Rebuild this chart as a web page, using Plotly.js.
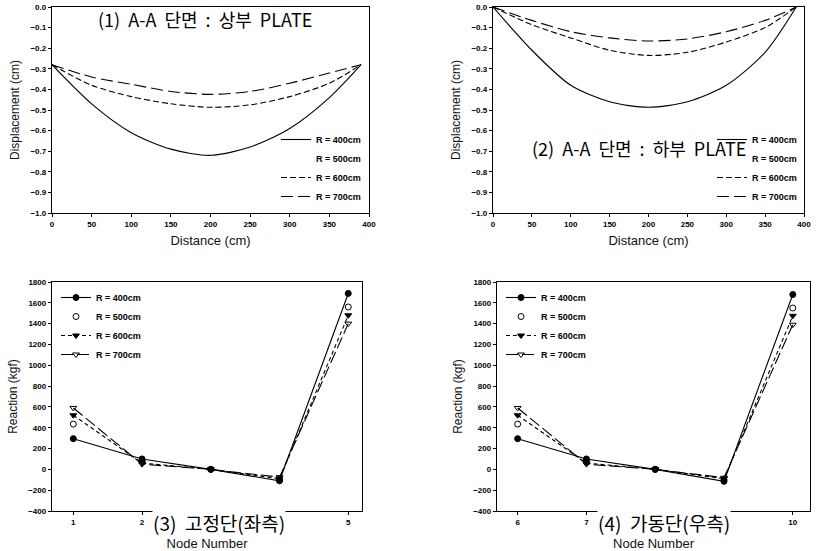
<!DOCTYPE html>
<html>
<head>
<meta charset="utf-8">
<script src="https://cdn.plot.ly/plotly-3.0.1.min.js"></script>
<style>html,body{margin:0;padding:0;background:#fff;}#chart{width:817px;height:551px;}</style>
</head>
<body>
<div id="chart"></div>
<script>
// ---- Data ----
const seriesNames = ['R = 400cm', 'R = 500cm', 'R = 600cm', 'R = 700cm'];

// Panel (1) upper plate displacement
const dist1 = [0, 50, 100, 150, 200, 250, 300, 350, 390];
const upper400 = [-0.28, -0.47, -0.61, -0.69, -0.72, -0.68, -0.59, -0.44, -0.28];
const upper600 = [-0.28, -0.38, -0.435, -0.47, -0.487, -0.475, -0.435, -0.37, -0.28];
const upper700 = [-0.28, -0.34, -0.375, -0.41, -0.424, -0.41, -0.37, -0.32, -0.28];

// Panel (2) lower plate displacement
const dist2 = [0, 50, 100, 150, 200, 250, 300, 350, 390];
const lower400 = [0.0, -0.21, -0.38, -0.46, -0.487, -0.46, -0.38, -0.22, 0.0];
const lower600 = [0.0, -0.086, -0.15, -0.21, -0.235, -0.22, -0.17, -0.1, 0.0];
const lower700 = [0.0, -0.065, -0.12, -0.15, -0.165, -0.155, -0.12, -0.065, 0.0];

// Panel (3) fixed end reactions
const nodes3 = [1, 2, 3, 4, 5];
const nodeLabels3 = ['1', '2', '', '', '5'];
const fixed400 = [295, 100, 0, -110, 1690];
const fixed500 = [435, 80, 0, -100, 1560];
const fixed600 = [520, 60, 0, -90, 1480];
const fixed700 = [590, 50, 0, -75, 1400];

// Panel (4) movable end reactions
const nodes4 = [6, 7, 8, 9, 10];
const nodeLabels4 = ['6', '7', '', '', '10'];
const move400 = [295, 100, 0, -115, 1680];
const move500 = [435, 85, 0, -100, 1550];
const move600 = [520, 60, 0, -90, 1475];
const move700 = [590, 50, 0, -80, 1390];

const titles = ['(1)\u00a0\u00a0A-A\u00a0\u00a0단면\u00a0\u00a0:\u00a0\u00a0상부\u00a0\u00a0PLATE',
                '(2)\u00a0\u00a0A-A\u00a0\u00a0단면\u00a0\u00a0:\u00a0\u00a0하부\u00a0\u00a0PLATE',
                '(3)\u00a0\u00a0고정단(좌측)', '(4)\u00a0\u00a0가동단(우측)'];

// ---- Styles ----
const W = 817, H = 551;
const px = v => v / W, py = v => 1 - v / H;
const latin = 'Liberation Sans, Arial, sans-serif';
const kor = 'Noto Sans CJK KR, sans-serif';
const dash600a = '6px,3px';
const dash700a = '12px,5px';

function lineTrace(x, y, name, dash, xa, ya, leg, width) {
  return {x: x, y: y, name: name, type: 'scatter', mode: 'lines', line: {color: '#000', width: width === undefined ? 1.1 : width, dash: dash, shape: 'spline', smoothing: 0.8},
    xaxis: xa, yaxis: ya, legend: leg, hoverinfo: 'skip'};
}
function nodeTrace(x, y, name, mode, sym, dash, xa, ya, leg) {
  return {x: x, y: y, name: name, type: 'scatter', mode: mode, line: {color: '#000', width: 1.1, dash: dash},
    marker: {symbol: sym, size: 6, color: '#000', line: {color: '#000', width: 1}},
    xaxis: xa, yaxis: ya, legend: leg, hoverinfo: 'skip'};
}

const traces = [
  lineTrace(dist1, upper400, seriesNames[0], 'solid', 'x', 'y', 'legend'),
  lineTrace([null], [null], seriesNames[1], 'dot', 'x', 'y', 'legend', 0),
  lineTrace(dist1, upper600, seriesNames[2], dash600a, 'x', 'y', 'legend'),
  lineTrace(dist1, upper700, seriesNames[3], dash700a, 'x', 'y', 'legend'),

  lineTrace(dist2, lower400, seriesNames[0], 'solid', 'x2', 'y2', 'legend2'),
  lineTrace([null], [null], seriesNames[1], 'dot', 'x2', 'y2', 'legend2', 0),
  lineTrace(dist2, lower600, seriesNames[2], dash600a, 'x2', 'y2', 'legend2'),
  lineTrace(dist2, lower700, seriesNames[3], dash700a, 'x2', 'y2', 'legend2'),

  nodeTrace(nodes3, fixed400, seriesNames[0], 'lines+markers', 'circle', 'solid', 'x3', 'y3', 'legend3'),
  nodeTrace(nodes3, fixed500, seriesNames[1], 'markers', 'circle-open', 'solid', 'x3', 'y3', 'legend3'),
  nodeTrace(nodes3, fixed600, seriesNames[2], 'lines+markers', 'triangle-down', '4px,3px', 'x3', 'y3', 'legend3'),
  nodeTrace(nodes3, fixed700, seriesNames[3], 'lines+markers', 'triangle-down-open', '12px,4px', 'x3', 'y3', 'legend3'),

  nodeTrace(nodes4, move400, seriesNames[0], 'lines+markers', 'circle', 'solid', 'x4', 'y4', 'legend4'),
  nodeTrace(nodes4, move500, seriesNames[1], 'markers', 'circle-open', 'solid', 'x4', 'y4', 'legend4'),
  nodeTrace(nodes4, move600, seriesNames[2], 'lines+markers', 'triangle-down', '4px,3px', 'x4', 'y4', 'legend4'),
  nodeTrace(nodes4, move700, seriesNames[3], 'lines+markers', 'triangle-down-open', '12px,4px', 'x4', 'y4', 'legend4')
];

const tickFont = {family: latin, size: 8, color: '#000', weight: 'bold'};
function axis(domain, range, extra) {
  return Object.assign({domain: domain, range: range, showgrid: false, zeroline: false, showline: true, mirror: true,
    linecolor: '#000', linewidth: 1.2, ticks: 'outside', ticklen: 3, tickwidth: 1, tickcolor: '#000', tickfont: tickFont}, extra);
}
const xTitle = (t, s) => ({text: t, font: {family: latin, size: 13, color: '#111'}, standoff: s});
const yTitle = t => ({text: t, font: {family: latin, size: 12, color: '#111'}, standoff: 8});

function legendCfg(x, y, xanchor, yanchor) {
  return {x: x, y: y, xanchor: xanchor, yanchor: yanchor, xref: 'paper', yref: 'paper', bgcolor: 'rgba(0,0,0,0)',
    font: {family: latin, size: 9, color: '#000', weight: 'bold'}, itemwidth: 30, tracegroupgap: 0, borderwidth: 0};
}

function title(t, x, y, size, bg) {
  return {text: t, x: px(x), y: py(y), xref: 'paper', yref: 'paper', xanchor: 'center', yanchor: 'middle', showarrow: false,
    bgcolor: bg, borderpad: 0, font: {family: kor, size: size, color: '#000'}};
}

const layout = {
  width: W, height: H, margin: {l: 0, r: 0, t: 0, b: 0}, paper_bgcolor: '#fff', plot_bgcolor: '#fff',
  showlegend: true,
  xaxis: axis([px(52), px(369)], [0, 400], {anchor: 'y', dtick: 50, title: xTitle('Distance (cm)', 8)}),
  yaxis: axis([py(213), py(7)], [-1.0, 0.0], {anchor: 'x', dtick: 0.1, tickformat: '.1f', title: yTitle('Displacement (cm)')}),
  xaxis2: axis([px(493), px(804)], [0, 400], {anchor: 'y2', dtick: 50, title: xTitle('Distance (cm)', 8)}),
  yaxis2: axis([py(213), py(7)], [-1.0, 0.0], {anchor: 'x2', dtick: 0.1, tickformat: '.1f', title: yTitle('Displacement (cm)')}),
  xaxis3: axis([px(52), px(362)], [0.69, 5.2], {anchor: 'y3', tickvals: nodes3, ticktext: nodeLabels3, title: xTitle('Node Number', 14)}),
  yaxis3: axis([py(511), py(282)], [-400, 1800], {anchor: 'x3', dtick: 200, title: yTitle('Reaction (kgf)')}),
  xaxis4: axis([px(497), px(810)], [5.7, 10.25], {anchor: 'y4', tickvals: nodes4, ticktext: nodeLabels4, title: xTitle('Node Number', 14)}),
  yaxis4: axis([py(511), py(282)], [-400, 1800], {anchor: 'x4', dtick: 200, title: yTitle('Reaction (kgf)')}),
  legend: legendCfg(px(366), py(211), 'right', 'bottom'),
  legend2: legendCfg(px(802), py(211), 'right', 'bottom'),
  legend3: legendCfg(px(56), py(283), 'left', 'top'),
  legend4: legendCfg(px(501), py(283), 'left', 'top'),
  annotations: [
    title(titles[0], 205, 19, 18, 'rgba(0,0,0,0)'),
    title(titles[1], 639, 148, 18, 'rgba(0,0,0,0)'),
    title(titles[2], 219, 522, 19, '#fff'),
    title(titles[3], 664, 522, 19, '#fff')
  ]
};

Plotly.newPlot('chart', traces, layout, {staticPlot: true, displayModeBar: false});
</script>
</body>
</html>
